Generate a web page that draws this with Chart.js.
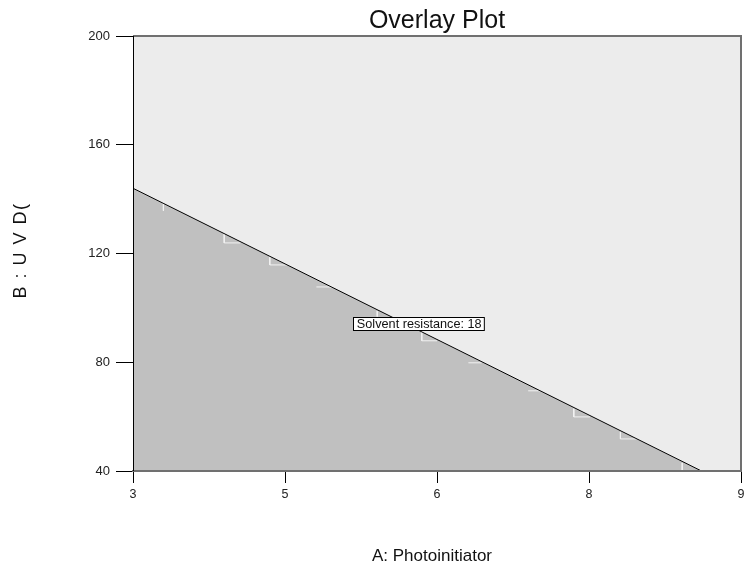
<!DOCTYPE html>
<html>
<head>
<meta charset="utf-8">
<script src="https://cdn.jsdelivr.net/npm/chart.js@4/dist/chart.umd.min.js"></script>
<style>
  html, body { margin: 0; padding: 0; background: #fff; }
  #wrap { width: 745px; height: 569px; }
</style>
</head>
<body>
<div id="wrap"><canvas id="overlay" width="745" height="569"></canvas></div>
<script>
// Solvent resistance = 18 contour (boundary of the shaded region)
const boundaryX = [3, 8.61];
const boundaryY = [144, 40];

// little white grid steps left along the contour
const stepX = [3.30, 3.30, null, 3.90, 3.90, 4.06, null, 4.35, 4.35, 4.52, null, 4.81, 4.97, null,
               5.41, 5.41, null, 5.85, 5.85, 6.00, null, 6.31, 6.44, null, 6.90, 7.02, null,
               7.35, 7.35, 7.51, null, 7.81, 7.81, 7.97, null, 8.42, 8.42];
const stepY = [139.0, 135.7, null, 127.2, 123.9, 123.9, null, 118.8, 115.8, 115.8, null, 107.7, 107.7, null,
               98.8, 96.8, null, 91.2, 87.9, 87.9, null, 79.8, 79.8, null, 69.5, 69.5, null,
               62.9, 59.9, 59.9, null, 54.4, 51.8, 51.8, null, 43.0, 40];

// axes
const xTickValues = [3, 4.5, 6, 7.5, 9];
const xTickLabels = ['3', '5', '6', '8', '9'];
const yTickValues = [40, 80, 120, 160, 200];

// flag on the contour
const flagText = 'Solvent resistance: 18';
const flagX = 5.82;
const flagY = 94.4;

const FONT = '"Liberation Sans", Arial, sans-serif';

document.addEventListener('DOMContentLoaded', () => {
    const ctx = document.getElementById('overlay').getContext('2d');

    const toPoints = (xs, ys) => xs.map((x, i) => ({ x: x, y: ys[i] }));

    // plot background + frame + texts
    const overlayPlugin = {
        id: 'overlayDecor',
        beforeDraw(chart) {
            const c = chart.ctx;
            const a = chart.chartArea;
            c.save();
            c.fillStyle = '#ececec';
            c.fillRect(a.left, a.top, a.right - a.left, a.bottom - a.top);
            c.restore();
        },
        afterDatasetsDraw(chart) {
            const c = chart.ctx;
            const a = chart.chartArea;
            c.save();
            // gray frame top / right / bottom
            c.strokeStyle = '#707070';
            c.lineWidth = 2;
            c.beginPath();
            c.moveTo(a.left, a.top);
            c.lineTo(a.right, a.top);
            c.lineTo(a.right, a.bottom);
            c.lineTo(a.left, a.bottom);
            c.stroke();
            // black left axis
            c.strokeStyle = '#000';
            c.lineWidth = 1;
            c.beginPath();
            c.moveTo(Math.round(a.left) + 0.5, a.top);
            c.lineTo(Math.round(a.left) + 0.5, a.bottom);
            c.stroke();

            // flag label
            const px = chart.scales.x.getPixelForValue(flagX);
            const py = chart.scales.y.getPixelForValue(flagY);
            c.font = '12.7px ' + FONT;
            const w = c.measureText(flagText).width;
            const bw = w + 6, bh = 13;
            c.fillStyle = '#ffffff';
            c.fillRect(Math.round(px - bw / 2) + 0.5, Math.round(py - bh / 2) + 0.5, bw, bh);
            c.strokeStyle = '#000';
            c.lineWidth = 1;
            c.strokeRect(Math.round(px - bw / 2) + 0.5, Math.round(py - bh / 2) + 0.5, bw, bh);
            c.fillStyle = '#111';
            c.textAlign = 'center';
            c.textBaseline = 'middle';
            c.fillText(flagText, px + 0.5, py + 1.5);
            c.restore();
        },
        afterDraw(chart) {
            const c = chart.ctx;
            const a = chart.chartArea;
            const cx = (a.left + a.right) / 2;
            c.save();
            c.fillStyle = '#111';
            c.textAlign = 'center';
            c.textBaseline = 'alphabetic';
            c.font = '25px ' + FONT;
            c.fillText('Overlay Plot', cx, 28);
            c.font = '17px ' + FONT;
            c.fillText('A: Photoinitiator', cx - 5, 561);

            // rotated y title
            c.translate(26, (a.top + a.bottom) / 2 - 3);
            c.rotate(-Math.PI / 2);
            c.font = '18px ' + FONT;
            c.letterSpacing = '1.5px';
            c.fillText('B : U V D(', 0, 0);
            c.restore();
        }
    };

    new Chart(ctx, {
        type: 'scatter',
        data: {
            datasets: [
                {
                    label: 'Solvent resistance 18',
                    data: toPoints(boundaryX, boundaryY),
                    showLine: true,
                    borderColor: '#000',
                    borderWidth: 1,
                    backgroundColor: '#c0c0c0',
                    fill: 'start',
                    pointRadius: 0,
                    order: 0
                },
                {
                    label: 'steps',
                    data: toPoints(stepX, stepY),
                    showLine: true,
                    spanGaps: false,
                    borderColor: '#f2f2f2',
                    borderWidth: 1,
                    fill: false,
                    pointRadius: 0,
                    order: 1
                }
            ]
        },
        options: {
            responsive: false,
            animation: false,
            devicePixelRatio: 1,
            layout: {
                padding: { top: 36, right: 4, left: 0, bottom: 0 }
            },
            plugins: {
                legend: { display: false },
                tooltip: { enabled: false },
                filler: { drawTime: 'beforeDatasetsDraw' }
            },
            scales: {
                x: {
                    type: 'linear',
                    min: 3,
                    max: 9,
                    afterBuildTicks: scale => {
                        scale.ticks = xTickValues.map(v => ({ value: v }));
                    },
                    afterFit: scale => {
                        scale.height = 98;
                        // don't let the end labels push the plot inwards
                        scale.paddingLeft = 0;
                        scale.paddingRight = 0;
                    },
                    ticks: {
                        color: '#222',
                        font: { family: FONT, size: 12.5 },
                        padding: 4,
                        maxRotation: 0,
                        autoSkip: false,
                        callback: (v, i) => xTickLabels[i]
                    },
                    grid: {
                        drawOnChartArea: false,
                        drawTicks: true,
                        tickLength: 12,
                        color: '#000'
                    },
                    border: { color: '#707070', width: 2 }
                },
                y: {
                    type: 'linear',
                    min: 40,
                    max: 200,
                    afterBuildTicks: scale => {
                        scale.ticks = yTickValues.map(v => ({ value: v }));
                    },
                    afterFit: scale => { scale.width = 133; },
                    ticks: {
                        color: '#222',
                        font: { family: FONT, size: 13 },
                        padding: 6,
                        autoSkip: false
                    },
                    grid: {
                        drawOnChartArea: false,
                        drawTicks: true,
                        tickLength: 17,
                        color: '#000'
                    },
                    border: { color: '#000', width: 1 }
                }
            }
        },
        plugins: [overlayPlugin]
    });
});
</script>
</body>
</html>
